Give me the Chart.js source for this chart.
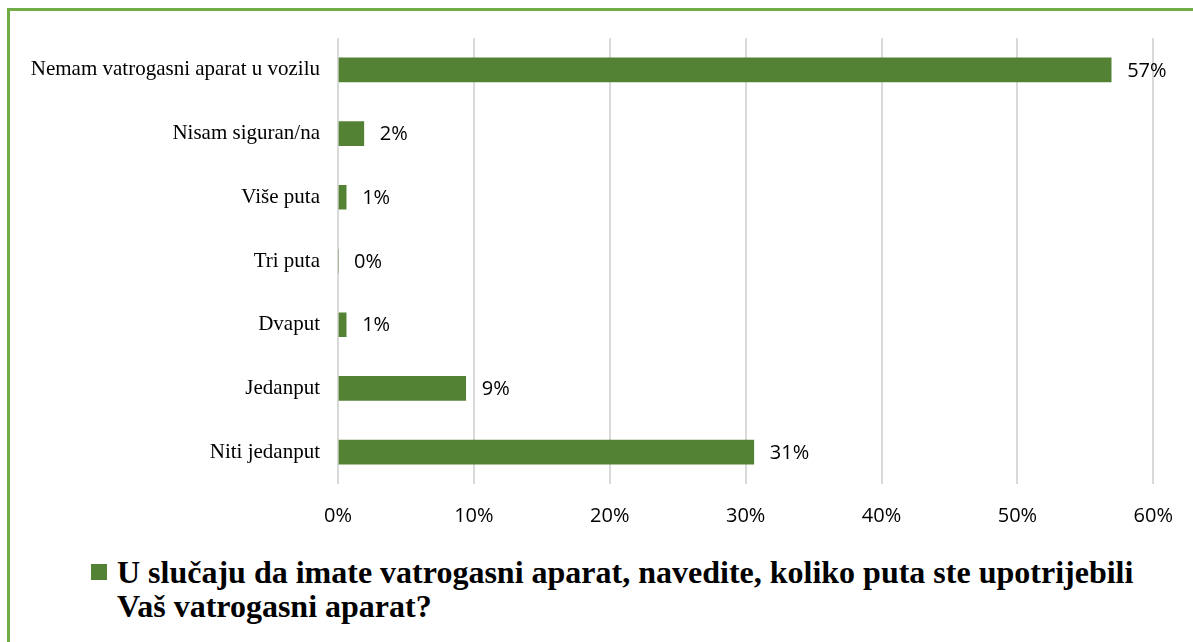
<!DOCTYPE html>
<html lang="bs">
<head>
    <meta charset="UTF-8">
    <title>Vatrogasni aparat</title>
    <script src="https://cdn.jsdelivr.net/npm/chart.js@4.4.1/dist/chart.umd.min.js"></script>
    <style>
        html, body { margin: 0; padding: 0; background: #fff; overflow: hidden; }
        body { width: 1193px; height: 642px; position: relative; }
        .frame { position: absolute; left: 7px; top: 8px; width: 1300px; height: 700px; border: 3px solid #70ad47; box-sizing: border-box; }
        #wrap { position: absolute; left: 0; top: 0; width: 1193px; height: 540px; }
        .legend { position: absolute; left: 91px; top: 555px; display: flex; align-items: flex-start; }
        .legend .box { width: 16px; height: 16px; background: #548235; margin-top: 9px; margin-right: 10px; flex: none; }
        .legend .txt { width: 1035px; font-family: "Liberation Serif", "Times New Roman", serif; font-weight: bold; font-size: 32px; line-height: 34px; color: #000; }
    </style>
</head>
<body>
    <div class="frame"></div>
    <div id="wrap"><canvas id="chart"></canvas></div>
    <div class="legend">
        <span class="box"></span>
        <span class="txt">U slučaju da imate vatrogasni aparat, navedite, koliko puta ste upotrijebili Vaš vatrogasni aparat?</span>
    </div>

    <script>
        // data (percent)
        const categories = ['Nemam vatrogasni aparat u vozilu', 'Nisam siguran/na', 'Više puta', 'Tri puta', 'Dvaput', 'Jedanput', 'Niti jedanput'];
        const values = [56.9, 1.9, 0.6, 0, 0.6, 9.4, 30.6];
        const tickValues = [0, 10, 20, 30, 40, 50, 60];

        const green = '#548235';
        const sansFont = '"Open Sans", "Liberation Sans", sans-serif';

        // value labels next to bar ends
        const barLabels = {
            id: 'barLabels',
            afterDatasetsDraw(chart) {
                const ctx = chart.ctx;
                const meta = chart.getDatasetMeta(0);
                ctx.save();
                ctx.font = '20px ' + sansFont;
                ctx.fillStyle = '#000';
                ctx.textAlign = 'left';
                ctx.textBaseline = 'middle';
                meta.data.forEach((bar, i) => {
                    ctx.fillText(Math.round(values[i]) + '%', bar.x + 16, bar.y + 1);
                });
                ctx.restore();
            }
        };

        new Chart(document.getElementById('chart'), {
            type: 'bar',
            data: {
                labels: categories,
                datasets: [{
                    label: 'U slučaju da imate vatrogasni aparat, navedite, koliko puta ste upotrijebili Vaš vatrogasni aparat?',
                    data: values,
                    backgroundColor: green,
                    barThickness: 24
                }]
            },
            options: {
                indexAxis: 'y',
                responsive: true,
                maintainAspectRatio: false,
                animation: false,
                layout: { padding: { top: 38, right: 38, left: 0, bottom: 0 } },
                plugins: {
                    legend: { display: false },
                    tooltip: { enabled: false }
                },
                scales: {
                    x: {
                        min: 0,
                        max: 60,
                        afterBuildTicks: (scale) => { scale.ticks = tickValues.map(v => ({ value: v })); },
                        afterFit: (scale) => { scale.height = 56; },
                        grid: { color: '#d9d9d9', lineWidth: 2, drawTicks: false },
                        border: { display: false },
                        ticks: {
                            padding: 20,
                            color: '#000',
                            font: { family: sansFont, size: 20 },
                            callback: (v) => v + '%'
                        }
                    },
                    y: {
                        afterFit: (scale) => { scale.width = 338; },
                        grid: { display: false, drawTicks: false },
                        border: { display: false },
                        ticks: {
                            padding: 18,
                            color: '#000',
                            font: { family: '"Liberation Serif", "Times New Roman", serif', size: 21 }
                        }
                    }
                }
            },
            plugins: [barLabels]
        });
    </script>
</body>
</html>
